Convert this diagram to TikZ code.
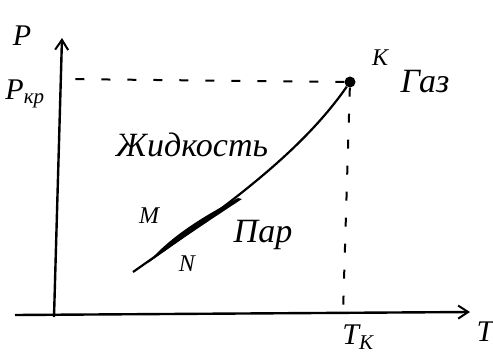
\documentclass[tikz,border=0pt]{standalone}
\usepackage{fontspec}
\setmainfont{Liberation Serif}
\usetikzlibrary{arrows.meta}
\tikzset{
  ax/.style = {draw=black, line width=2.4pt,
    -{Straight Barb[length=10pt, width=13pt, line width=2pt]}},
  lp/.style = {draw=black, line width=2.2pt},
  das/.style = {draw=black, line width=2pt, dash pattern=on 9pt off 17pt},
  dot/.style = {circle, fill=black, inner sep=0pt, minimum size=11pt},
  lbl/.style = {font=\fontsize{30}{32}\selectfont\itshape, inner sep=0pt},
  big/.style = {font=\fontsize{34}{36}\selectfont\itshape, inner sep=0pt},
  sml/.style = {font=\fontsize{24}{26}\selectfont\itshape, inner sep=0pt}
}
\begin{document}
\begin{tikzpicture}[x=1pt, y=-1pt]
  \useasboundingbox (0,0) rectangle (493,356);
  % оси
  \coordinate (o) at (54,317);
  \coordinate (ytop) at (62,38);
  \coordinate (xl) at (15,315);
  \coordinate (xr) at (470,312);
  \draw [ax] (o) -- (ytop);
  \draw [ax] (xl) -- (xr);
  \node [lbl] (p) at (22,36) {P};
  \node [lbl] (pkr) at (25,94) {P\textsubscript{кр}};
  \node [lbl] (t) at (485,332) {T};
  \node [lbl] (tk) at (358,337) {T\textsubscript{К}};
  % критическая точка
  \node [dot] (k) at (350,82) {};
  \coordinate (ky) at (60,79);
  \coordinate (kx) at (343,313);
  \draw [das] (k) -- (ky);
  \draw [das] (k) -- (kx);
  \node [sml] (klbl) at (380,58) {К};
  \node [big] (gaz) at (425,82) {Газ};
  % кривая
  \coordinate (a) at (133,272);
  \draw [lp] (a) .. controls (223,209) and (300,154) .. (k);
  \fill (148,263) .. controls (180,240) and (210,220) .. (242,199)
    -- (238,198) .. controls (210,213) and (180,230) .. (156,254) -- cycle;
  \node [sml] (m) at (149,216) {M};
  \node [sml] (n) at (187,264) {N};
  \node [big] (zh) at (192,145) {Жидкость};
  \node [big] (par) at (263,235) {Пар};
\end{tikzpicture}
\end{document}
